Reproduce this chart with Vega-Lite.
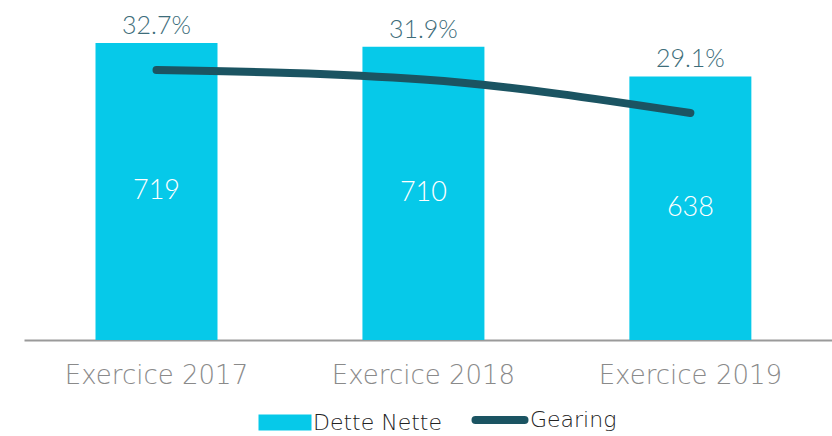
{
  "$schema": "https://vega.github.io/schema/vega-lite/v6.json",
  "width": 808,
  "height": 340,
  "autosize": "none",
  "padding": {"left": 24, "top": 0, "right": 0, "bottom": 96},
  "background": "white",
  "config": {"view": {"stroke": null}, "font": "Lato"},
  "data": {"values": [
    {"annee": "Exercice 2017", "dette": 719, "gearing": 0.327},
    {"annee": "Exercice 2018", "dette": 710, "gearing": 0.319},
    {"annee": "Exercice 2019", "dette": 638, "gearing": 0.291}
  ]},
  "transform": [{"calculate": "datum.dette / 2", "as": "mid"}],
  "encoding": {
    "x": {
      "field": "annee", "type": "nominal", "sort": null,
      "scale": {"paddingInner": 0.543, "paddingOuter": 0.285, "align": 0.47},
      "axis": {
        "title": null, "labelAngle": 0, "labelFontSize": 26, "labelFont": "DejaVu Sans", "labelFontWeight": 200,
        "labelColor": "#8a8a8a", "labelPadding": 22, "labelLimit": 400, "ticks": false,
        "domainColor": "#9a9a9a", "domainWidth": 2, "grid": false
      }
    }
  },
  "layer": [
    {
      "mark": {"type": "bar", "color": "#06C9E9"},
      "encoding": {
        "y": {"field": "dette", "type": "quantitative", "scale": {"domain": [0, 823], "nice": false}, "axis": null},
        "color": {"datum": "Dette Nette", "type": "nominal",
          "scale": {"domain": ["Dette Nette", "Gearing"], "range": ["#06C9E9", "#1B5462"]},
          "legend": {
            "title": null, "orient": "none", "legendX": 250, "legendY": 409, "direction": "horizontal",
            "padding": 0, "symbolSize": 2809, "labelFontSize": 22, "labelFont": "DejaVu Sans", "labelFontWeight": 200,
            "labelColor": "#222222", "labelOffset": 17, "columnPadding": 16, "labelLimit": 300,
            "encode": {"symbols": {"update": {
              "shape": {"signal": "datum.value === 'Gearing' ? 'M-1,0H0.85' : 'M-1,-0.3H1V0.3H-1Z'"},
              "fill": {"signal": "datum.value === 'Gearing' ? 'transparent' : '#06C9E9'"},
              "stroke": {"signal": "datum.value === 'Gearing' ? '#1B5462' : 'transparent'"},
              "strokeWidth": {"signal": "datum.value === 'Gearing' ? 8 : 0"},
              "strokeCap": {"value": "round"},
              "opacity": {"value": 1}
            }}}
          }
        }
      }
    },
    {
      "mark": {"type": "text", "color": "#ffffff", "fontSize": 27, "font": "Lato", "fontWeight": 300, "baseline": "middle"},
      "encoding": {
        "y": {"field": "mid", "type": "quantitative", "scale": {"domain": [0, 823], "nice": false}, "axis": null},
        "text": {"field": "dette", "type": "quantitative"}
      }
    },
    {
      "mark": {"type": "text", "color": "#3D6D7A", "fontSize": 25, "font": "Lato", "fontWeight": 300, "baseline": "bottom", "dy": -4},
      "encoding": {
        "y": {"field": "dette", "type": "quantitative", "scale": {"domain": [0, 823], "nice": false}, "axis": null},
        "text": {"field": "gearing", "type": "quantitative", "format": ".1%"}
      }
    },
    {
      "mark": {"type": "line", "strokeWidth": 8, "strokeCap": "round", "interpolate": "monotone"},
      "encoding": {
        "y": {"field": "gearing", "type": "quantitative", "scale": {"domain": [0.101, 0.3856], "nice": false, "zero": false}, "axis": null},
        "color": {"datum": "Gearing", "type": "nominal"}
      }
    }
  ],
  "resolve": {"scale": {"y": "independent"}}
}
